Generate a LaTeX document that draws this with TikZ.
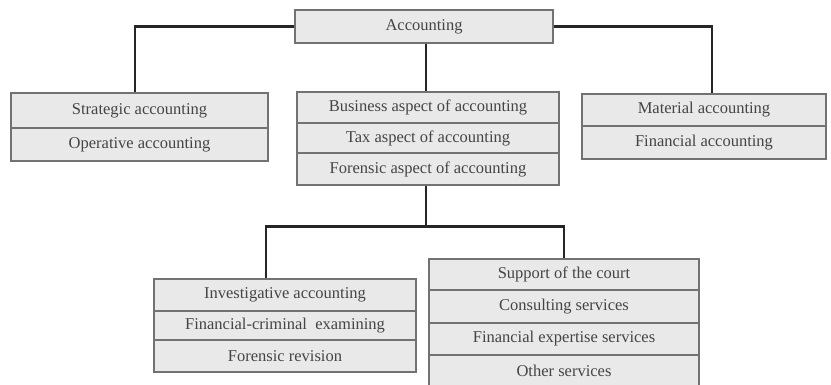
\documentclass[tikz,border=0pt]{standalone}
\usepackage{fontspec}
\setmainfont{Liberation Serif}
\definecolor{cellfill}{HTML}{E9E9E9}
\definecolor{cellline}{HTML}{727272}
\definecolor{celltext}{HTML}{454545}
\definecolor{connline}{HTML}{262626}
\begin{document}
\begin{tikzpicture}[x=1pt,y=-1pt,
  cell/.style={draw=cellline, line width=1.3pt, fill=cellfill, text=celltext,
    inner sep=0pt, font=\fontsize{16.5}{17}\selectfont},
  conn/.style={draw=connline, line width=2.6pt}]
\useasboundingbox (0,0) rectangle (831,385);
% top
\node[cell, minimum width=258pt, minimum height=33pt] (acc) at (424,26.5) {Accounting};
% left group
\node[cell, minimum width=257pt, minimum height=35pt] (s1) at (139.5,110.5) {Strategic accounting};
\node[cell, minimum width=257pt, minimum height=33pt] (s2) at (139.5,144.5) {Operative accounting};
% middle group
\node[cell, minimum width=262pt, minimum height=31pt] (b1) at (428,107.5) {Business aspect of accounting};
\node[cell, minimum width=262pt, minimum height=30pt] (b2) at (428,138) {Tax aspect of accounting};
\node[cell, minimum width=262pt, minimum height=32pt] (f3) at (428,169) {Forensic aspect of accounting};
% right group
\node[cell, minimum width=244pt, minimum height=32pt] (mat) at (704,110) {Material accounting};
\node[cell, minimum width=244pt, minimum height=33pt] (fin) at (704,142.5) {Financial accounting};
% bottom left group
\node[cell, minimum width=262pt, minimum height=32pt] (i1) at (285,295) {Investigative accounting};
\node[cell, minimum width=262pt, minimum height=29pt] (i2) at (285,325.5) {Financial-criminal\ \ examining};
\node[cell, minimum width=262pt, minimum height=32pt] (i3) at (285,356) {Forensic revision};
% bottom right group
\node[cell, minimum width=270pt, minimum height=31pt] (sup) at (564,274.5) {Support of the court};
\node[cell, minimum width=270pt, minimum height=33pt] (con) at (564,306.5) {Consulting services};
\node[cell, minimum width=270pt, minimum height=32pt] (fe) at (564,339) {Financial expertise services};
\node[cell, minimum width=270pt, minimum height=32pt] (oth) at (564,371) {Other services};
% connectors
\draw[conn] (acc.west) -| ([xshift=-4.5pt]s1.north);
\draw[conn] (acc.east) -| ([xshift=8pt]mat.north);
\draw[conn] ([xshift=-2pt]b1.north |- acc.south) -- ([xshift=-2pt]b1.north);
\draw[conn] ([xshift=-2pt]f3.south) -- ++(0,41) coordinate (j);
\draw[conn] (j) -| ([xshift=-19pt]i1.north);
\draw[conn] (j) -| (sup.north);
\end{tikzpicture}
\end{document}
